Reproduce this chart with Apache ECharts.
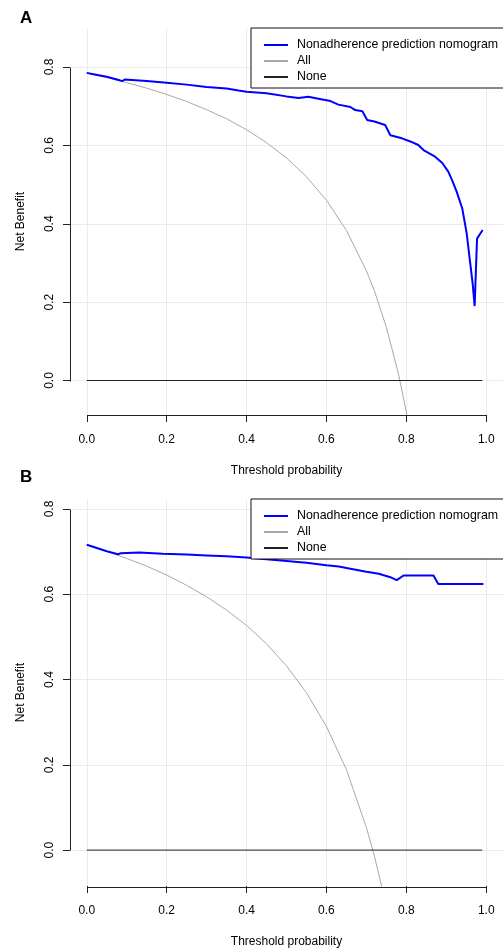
<!DOCTYPE html>
<html>
<head>
<meta charset="utf-8">
<script src="https://cdn.jsdelivr.net/npm/echarts@6/dist/echarts.min.js"></script>
<style>
html,body{margin:0;padding:0;background:#fff;}
#chart{width:503px;height:949px;}
</style>
</head>
<body>
<div id="chart"></div>
<script>
// ---------- data ----------
var seriesNames = ['Nonadherence prediction nomogram', 'All', 'None'];
var xTicks = [0, 0.2, 0.4, 0.6, 0.8, 1.0];
var yTicks = [0, 0.2, 0.4, 0.6, 0.8];

// Panel A
var modelA = [[0,0.785],[0.02,0.781],[0.05,0.775],[0.08,0.767],[0.089,0.764],[0.095,0.768],[0.15,0.764],[0.2,0.760],[0.25,0.755],[0.3,0.749],[0.35,0.745],[0.38,0.740],[0.40,0.737],[0.45,0.733],[0.50,0.725],[0.53,0.721],[0.555,0.724],[0.58,0.719],[0.61,0.713],[0.63,0.704],[0.66,0.698],[0.672,0.690],[0.69,0.687],[0.702,0.665],[0.72,0.661],[0.747,0.652],[0.76,0.626],[0.789,0.618],[0.81,0.610],[0.83,0.601],[0.843,0.588],[0.872,0.571],[0.89,0.555],[0.905,0.533],[0.915,0.510],[0.926,0.482],[0.94,0.439],[0.951,0.376],[0.959,0.307],[0.966,0.248],[0.971,0.190],[0.977,0.362],[0.991,0.384]];
var allA = [[0,0.784],[0.05,0.773],[0.1,0.760],[0.15,0.746],[0.2,0.730],[0.25,0.712],[0.3,0.691],[0.35,0.668],[0.4,0.640],[0.45,0.607],[0.5,0.568],[0.55,0.520],[0.6,0.460],[0.65,0.383],[0.7,0.280],[0.72,0.229],[0.75,0.136],[0.78,0.018],[0.8,-0.080],[0.81,-0.137]];
var noneA = [[0,0],[0.99,0]];

// Panel B
var modelB = [[0,0.716],[0.05,0.701],[0.078,0.694],[0.085,0.696],[0.132,0.698],[0.19,0.695],[0.25,0.693],[0.30,0.691],[0.35,0.689],[0.40,0.686],[0.45,0.682],[0.50,0.678],[0.55,0.674],[0.60,0.668],[0.631,0.665],[0.66,0.660],[0.70,0.653],[0.731,0.648],[0.76,0.640],[0.776,0.633],[0.781,0.631],[0.793,0.644],[0.868,0.644],[0.880,0.624],[0.993,0.624]];
var allB = [[0,0.716],[0.05,0.701],[0.1,0.684],[0.15,0.666],[0.2,0.645],[0.25,0.621],[0.3,0.594],[0.35,0.563],[0.4,0.527],[0.45,0.484],[0.5,0.432],[0.55,0.369],[0.6,0.290],[0.65,0.189],[0.7,0.053],[0.72,-0.014],[0.74,-0.092]];
var noneB = [[0,0],[0.99,0]];

// ---------- options ----------
var FONT = '"Liberation Sans", Arial, sans-serif';
var grids = [
  {left:70, top:28, width:435, height:387},
  {left:70, top:499, width:435, height:388}
];
var yRanges = [[-0.088, 0.8995], [-0.0842, 0.8234]];

function xAxisCfg(i){
  return {
    type:'value', gridIndex:i, min:-0.042, max:1.042,
    name:'Threshold probability', nameLocation:'middle', nameGap:50,
    nameTextStyle:{fontFamily:FONT, fontSize:12, color:'#000'},
    axisLine:{show:false, onZero:false},
    axisTick:{show:true, customValues:xTicks, length:7, lineStyle:{color:'#222', width:1}},
    axisLabel:{customValues:xTicks, margin:19, fontFamily:FONT, fontSize:12, color:'#000',
      formatter:function(v){return v.toFixed(1);}},
    splitLine:{show:true, lineStyle:{color:'#ebebeb', width:1}}
  };
}
function yAxisCfg(i){
  return {
    type:'value', gridIndex:i, min:yRanges[i][0], max:yRanges[i][1],
    name:'Net Benefit', nameLocation:'middle', nameGap:43,
    nameTextStyle:{fontFamily:FONT, fontSize:12, color:'#000'},
    axisLine:{show:false, onZero:false},
    axisTick:{show:true, customValues:yTicks, length:7, lineStyle:{color:'#222', width:1}},
    axisLabel:{customValues:yTicks, rotate:90, margin:14, fontFamily:FONT, fontSize:12, color:'#000',
      formatter:function(v){return v.toFixed(1);}},
    splitLine:{show:true, lineStyle:{color:'#ebebeb', width:1}}
  };
}
function legendCfg(top){
  return {
    data: seriesNames, orient:'vertical', left:251, top:top,
    itemWidth:24, itemHeight:14,
    padding:[11, 14, 5, 12],
    itemGap:4,
    itemStyle:{opacity:0},
    backgroundColor:'#fff', borderColor:'#111', borderWidth:1, borderRadius:0,
    textStyle:{fontFamily:FONT, fontSize:12.4, color:'#000', padding:[0,0,0,4]},
    selectedMode:false
  };
}
function panelSeries(i, model, all, none){
  return [
    {name:'All', type:'line', xAxisIndex:i, yAxisIndex:i, data:all, smooth:false,
      symbol:'none', lineStyle:{color:'#a8a8a8', width:1}, itemStyle:{color:'#a8a8a8'}, animation:false},
    {name:'None', type:'line', xAxisIndex:i, yAxisIndex:i, data:none,
      symbol:'none', lineStyle:{color:'#222', width:1}, itemStyle:{color:'#222'}, animation:false},
    {name:'Nonadherence prediction nomogram', type:'line', xAxisIndex:i, yAxisIndex:i, data:model,
      symbol:'none', lineStyle:{color:'#0000ff', width:2}, itemStyle:{color:'#0000ff'}, animation:false}
  ];
}

var chart = echarts.init(document.getElementById('chart'), null, {renderer:'canvas'});
chart.setOption({
  animation:false,
  backgroundColor:'#fff',
  grid: grids,
  xAxis: [xAxisCfg(0), xAxisCfg(1)],
  yAxis: [yAxisCfg(0), yAxisCfg(1)],
  legend: [legendCfg(28), legendCfg(499)],
  series: panelSeries(0, modelA, allA, noneA).concat(panelSeries(1, modelB, allB, noneB))
});

// R-style axis lines spanning only the tick range
var g = [];
[0,1].forEach(function(i){
  var p00 = chart.convertToPixel({gridIndex:i}, [0, 0]);
  var p10 = chart.convertToPixel({gridIndex:i}, [1, 0]);
  var p08 = chart.convertToPixel({gridIndex:i}, [0, 0.8]);
  var gx = grids[i].left + 0.5;
  var gy = grids[i].top + grids[i].height + 0.5;
  g.push({type:'line', silent:true, z:10, shape:{x1:gx, y1:Math.round(p00[1])+0.5, x2:gx, y2:Math.round(p08[1])+0.5}, style:{stroke:'#222', lineWidth:1}});
  g.push({type:'line', silent:true, z:10, shape:{x1:Math.round(p00[0])+0.5, y1:gy, x2:Math.round(p10[0])+0.5, y2:gy}, style:{stroke:'#222', lineWidth:1}});
});
g.push({type:'text', left:20, top:10, style:{text:'A', font:'bold 17px ' + FONT, fill:'#000'}});
g.push({type:'text', left:20, top:469, style:{text:'B', font:'bold 17px ' + FONT, fill:'#000'}});
chart.setOption({graphic:g});
</script>
</body>
</html>
